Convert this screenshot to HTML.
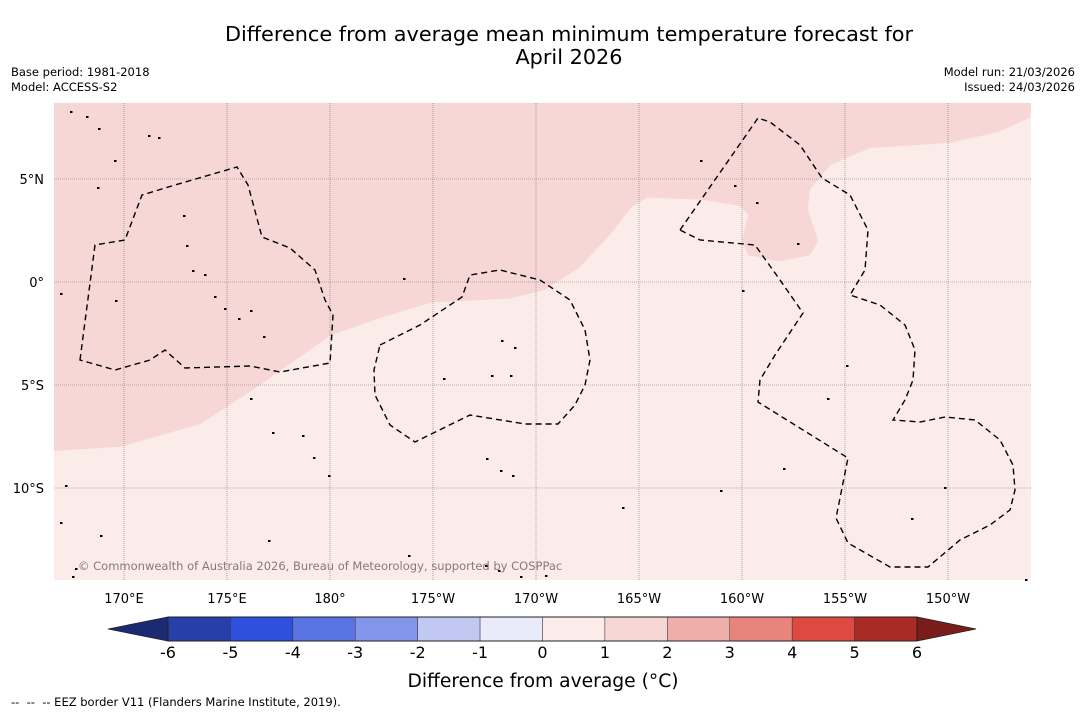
<!DOCTYPE html>
<html><head><meta charset="utf-8"><style>
body{margin:0;background:#fff;}
svg{display:block;font-family:"DejaVu Sans","Liberation Sans",sans-serif;}
</style></head><body>
<svg width="1085" height="713" viewBox="0 0 1085 713">
<text x="569" y="41" font-size="20.8" text-anchor="middle">Difference from average mean minimum temperature forecast for</text>
<text x="569" y="64" font-size="20.8" text-anchor="middle">April 2026</text>
<text x="11" y="76" font-size="11.5">Base period: 1981-2018</text>
<text x="11" y="91" font-size="11.5">Model: ACCESS-S2</text>
<text x="1075" y="76" font-size="11.5" text-anchor="end">Model run: 21/03/2026</text>
<text x="1075" y="91" font-size="11.5" text-anchor="end">Issued: 24/03/2026</text>
<g id="map"></g>
<g id="cbar"></g>
<text x="543" y="687" font-size="18.7" text-anchor="middle">Difference from average (°C)</text>
<text x="11" y="706" font-size="11.5" xml:space="preserve">--  --  -- EEZ border V11 (Flanders Marine Institute, 2019).</text>
</svg>
<script>
const lonTicks=[170,175,180,185,190,195,200,205,210];
const lonLabels=["170°E","175°E","180°","175°W","170°W","165°W","160°W","155°W","150°W"];
const latTicks=[5,0,-5,-10];
const latLabels=["5°N","0°","5°S","10°S"];
const anomalyLon=[166.6,169.8,173.7,176.6,180,182.4,184.9,188.7,190.4,192.1,193.6,194.6,195.4,198,199.9,200.3,200,200.3,201.8,203.3,203.7,203.2,203.3,204.3,206.2,210.1,212.5,214];
const anomalyLat=[-8.2,-8.0,-6.9,-5.0,-2.6,-1.75,-1.0,-0.8,-0.4,0.7,2.3,3.6,4.1,4.0,3.7,3.25,2.0,1.3,1.0,1.3,2.0,3.5,4.5,5.7,6.5,6.75,7.3,8.0];
const cbLevels=[-6,-5,-4,-3,-2,-1,0,1,2,3,4,5,6];
const cbColors=["#263fa9","#2f4fdc","#5a73e3","#8496ea","#c1c9f3","#e9ebfa","#fbebe9","#f6d7d5","#eeaeaa","#e8847c","#dc4a40","#aa2b23"];
const NS="http://www.w3.org/2000/svg";
const X0=54,X1=1031,Y0=103,Y1=580;
const xs=lon=>124+(lon-170)*103/5;
const ys=lat=>282-lat*103/5;
function el(t,a,p){const e=document.createElementNS(NS,t);for(const k in a)e.setAttribute(k,a[k]);p.appendChild(e);return e;}
const map=document.getElementById('map');
const bg=el('rect',{x:X0,y:Y0,width:X1-X0,height:Y1-Y0,fill:"#fbebe9"},map);


let d=`M${X0},${Y0} `;
for(let i=0;i<anomalyLon.length;i++)d+=`L${xs(anomalyLon[i]).toFixed(1)},${ys(anomalyLat[i]).toFixed(1)} `;
d+=`L${X1},${Y0} Z`;
const reg=el('path',{d:d,fill:"#f6d7d5"},map);


lonTicks.forEach((lo,i)=>{const x=xs(lo);
 const g=el('line',{x1:x,x2:x,y1:Y0,y2:Y1,stroke:"#777",'stroke-width':0.6,'stroke-dasharray':"1 1"},map);
 
 
 const t=el('text',{x:x,y:603,'font-size':13,'text-anchor':'middle'},map);t.textContent=lonLabels[i];
 
 });
latTicks.forEach((la,i)=>{const y=ys(la);
 const g=el('line',{x1:X0,x2:X1,y1:y,y2:y,stroke:"#777",'stroke-width':0.6,'stroke-dasharray':"1 1"},map);
 
 
 const t=el('text',{x:44,y:y+5,'font-size':13,'text-anchor':'end'},map);t.textContent=latLabels[i];
 
 });
const eez=[
"M80,360 L95,245 L125,240 L142,195 L175,185 L237,167 L248,185 L262,237 L290,248 L315,270 L325,300 L333,315 L330,363 L280,372 L250,366 L185,368 L165,350 L150,360 L115,370 Z",
"M380,345 L420,325 L462,297 L470,275 L500,270 L540,280 L570,300 L585,330 L590,360 L585,385 L575,405 L558,424 L525,424 L470,415 L415,442 L390,425 L375,395 L374,370 Z",
"M680,230 L758,118 L770,122 L800,145 L822,178 L850,195 L868,230 L865,270 L850,295 L880,305 L905,325 L915,350 L913,380 L905,400 L893,420 L920,422 L945,417 L975,420 L1000,440 L1013,465 L1015,490 L1010,510 L990,525 L960,540 L928,567 L890,567 L848,543 L836,518 L848,458 L758,402 L760,380 L775,355 L803,313 L780,280 L755,245 L700,240 Z"];
eez.forEach(p=>{const e=el('path',{d:p,fill:"none",stroke:"#000",'stroke-width':1.4,'stroke-dasharray':"6 4"},map);
 
 });
const isl=[[70,111],[86,116],[98,128],[148,135],[158,137],[114,160],[97,187],[183,215],[186,245],[192,270],[204,274],[214,296],[224,308],[238,318],[250,310],[263,336],[60,293],[115,300],[250,398],[272,432],[302,435],[313,457],[328,475],[443,378],[491,375],[510,375],[501,340],[514,347],[486,458],[500,470],[512,475],[720,490],[756,202],[797,243],[783,468],[846,365],[827,398],[944,487],[622,507],[60,522],[100,535],[268,540],[408,555],[485,565],[498,570],[520,576],[545,575],[75,568],[72,576],[1025,579],[700,160],[734,185],[742,290],[403,278],[911,518],[65,485]];
isl.forEach(p=>{const e=el('rect',{x:p[0],y:p[1],width:2.5,height:2,fill:"#000"},map);
 
 });
const cp=el('text',{x:78,y:570,'font-size':11.5,fill:"#8a7878"},map);
cp.textContent="© Commonwealth of Australia 2026, Bureau of Meteorology, supported by COSPPac";


const cb=document.getElementById('cbar');
const CX0=168,CX1=917,CY0=617,CY1=641;
const cx=v=>CX0+(v-cbLevels[0])*(CX1-CX0)/(cbLevels[cbLevels.length-1]-cbLevels[0]);
const lo=el('polygon',{points:`${CX0},${CY0} ${CX0},${CY1} 108,629`,fill:"#1b2a72",stroke:"#222",'stroke-width':0.8},cb);


const hi=el('polygon',{points:`${CX1},${CY0} ${CX1},${CY1} 976,629`,fill:"#7a1c19",stroke:"#222",'stroke-width':0.8},cb);


cbColors.forEach((c,i)=>{const x=cx(cbLevels[i]),w=cx(cbLevels[i+1])-x;
 const r=el('rect',{x:x,y:CY0,width:w,height:CY1-CY0,fill:c,stroke:"#333",'stroke-width':0.5},cb);
 
 });
el('rect',{x:CX0,y:CY0,width:CX1-CX0,height:CY1-CY0,fill:"none",stroke:"#222",'stroke-width':1},cb);
cbLevels.forEach(v=>{const t=el('text',{x:cx(v),y:658,'font-size':16,'text-anchor':'middle'},cb);t.textContent=v;
 
 });
</script>
</body></html>
